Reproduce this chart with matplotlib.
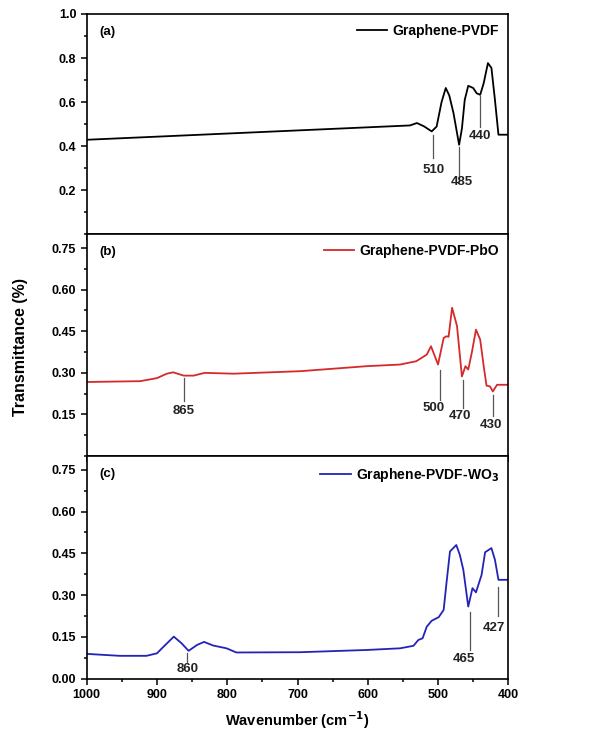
import matplotlib
matplotlib.use("Agg")
import matplotlib.pyplot as plt
from matplotlib.ticker import MultipleLocator

plt.rcParams['font.family'] = ['Liberation Sans', 'DejaVu Sans']
plt.rcParams['font.weight'] = 'bold'
plt.rcParams['mathtext.default'] = 'bf'

# spectra (wavenumber, transmittance)
wn_a = [1000, 540, 530, 520, 509, 502, 495, 489, 484, 478, 470, 466, 462, 457, 450, 445, 440, 435, 429, 424, 419, 414, 400]
tr_a = [0.429, 0.494, 0.505, 0.490, 0.467, 0.489, 0.600, 0.664, 0.630, 0.550, 0.406, 0.480, 0.610, 0.674, 0.664, 0.640, 0.633, 0.686, 0.777, 0.755, 0.610, 0.452, 0.452]

wn_b = [1000, 924, 900, 886, 877, 862, 848, 832, 791, 696, 602, 554, 531, 516, 510, 500, 492, 488, 485, 480, 473, 466, 461, 457, 452, 446, 440, 435, 431, 426, 422, 416, 400]
tr_b = [0.267, 0.270, 0.281, 0.297, 0.302, 0.290, 0.290, 0.300, 0.297, 0.306, 0.324, 0.330, 0.342, 0.366, 0.396, 0.330, 0.426, 0.432, 0.430, 0.535, 0.469, 0.287, 0.324, 0.312, 0.372, 0.456, 0.420, 0.324, 0.254, 0.251, 0.233, 0.257, 0.257]

wn_c = [1000, 953, 915, 900, 893, 876, 865, 855, 843, 833, 820, 801, 787, 696, 602, 554, 535, 528, 522, 516, 509, 499, 492, 488, 483, 474, 469, 464, 457, 451, 446, 438, 433, 424, 419, 414, 400]
tr_c = [0.089, 0.082, 0.082, 0.091, 0.109, 0.151, 0.127, 0.100, 0.121, 0.132, 0.119, 0.109, 0.094, 0.095, 0.103, 0.109, 0.118, 0.139, 0.145, 0.187, 0.208, 0.221, 0.247, 0.343, 0.457, 0.480, 0.445, 0.391, 0.259, 0.325, 0.310, 0.373, 0.454, 0.469, 0.427, 0.355, 0.355]

names = ['Graphene-PVDF', 'Graphene-PVDF-PbO', 'Graphene-PVDF-WO$_3$']
tags = ['(a)', '(b)', '(c)']
colors = ['black', '#d42a2a', '#2323b8']

# peak marks: label, wavenumber, line top, line bottom, text x, text y
peaks_a = [('510', 507.6, 0.452, 0.345, 507, 0.292),
           ('485', 470, 0.398, 0.247, 466, 0.239),
           ('440', 440, 0.626, 0.489, 440, 0.444)]
peaks_b = [('865', 862, 0.281, 0.197, 862, 0.161),
           ('500', 497, 0.312, 0.203, 507, 0.173),
           ('470', 465, 0.275, 0.173, 469, 0.143),
           ('430', 422, 0.221, 0.143, 424, 0.112)]
peaks_c = [('860', 857, 0.091, 0.061, 857, 0.034),
           ('465', 455, 0.241, 0.103, 463, 0.070),
           ('427', 415, 0.331, 0.226, 421, 0.181)]

fig = plt.figure(figsize=(6.15, 7.31), dpi=100)
left, width = 0.141, 0.6855
boxes = [(0.6795, 0.3014), (0.3762, 0.3033), (0.0716, 0.3047)]
axes = [fig.add_axes([left, b, width, h]) for b, h in boxes]

series = [(wn_a, tr_a, peaks_a), (wn_b, tr_b, peaks_b), (wn_c, tr_c, peaks_c)]
for i, ax in enumerate(axes):
    wn, tr, peaks = series[i]
    ax.plot(wn, tr, color=colors[i], lw=1.3, label=names[i])
    ax.set_xlim(1000, 400)
    ax.xaxis.set_major_locator(MultipleLocator(100))
    ax.xaxis.set_minor_locator(MultipleLocator(50))
    if i == 0:
        ax.set_ylim(0, 1.0)
        ax.set_yticks([0.2, 0.4, 0.6, 0.8, 1.0])
        ax.set_yticklabels(['0.2', '0.4', '0.6', '0.8', '1.0'])
        ax.yaxis.set_minor_locator(MultipleLocator(0.1))
    else:
        ax.set_ylim(0, 0.8)
        yt = [0.15, 0.30, 0.45, 0.60, 0.75] if i == 1 else [0.0, 0.15, 0.30, 0.45, 0.60, 0.75]
        ax.set_yticks(yt)
        ax.set_yticklabels(['%.2f' % v for v in yt])
        ax.yaxis.set_minor_locator(MultipleLocator(0.075))
    ax.tick_params(which='both', direction='out', top=False, right=False,
                   labelsize=9, width=1.1)
    ax.tick_params(which='major', length=4)
    ax.tick_params(which='minor', length=2.5)
    for lab in ax.get_yticklabels() + ax.get_xticklabels():
        lab.set_fontweight('bold')
    if i < 2:
        ax.tick_params(axis='x', labelbottom=False)
    for s in ax.spines.values():
        s.set_linewidth(1.2)
    for lab, x, y1, y2, tx, ty in peaks:
        ax.plot([x, x], [y1, y2], color='#555555', lw=0.9)
        ax.text(tx, ty, lab, ha='center', va='center', fontsize=9.5, fontweight='bold', color='#222222')
    ax.text(0.03, 0.905, tags[i], transform=ax.transAxes, fontsize=9.5, fontweight='bold')
    leg = ax.legend(loc='upper right', frameon=False, handlelength=2.2, handletextpad=0.35,
                    borderaxespad=0.3, prop={'size': 10, 'weight': 'bold'})

axes[2].set_xlabel('Wavenumber (cm$^{-1}$)', fontsize=10.5, fontweight='bold', labelpad=6)
fig.text(0.033, 0.525, 'Transmittance (%)', rotation=90, ha='center', va='center',
         fontsize=11.5, fontweight='bold')

fig.savefig('out.png', dpi=100)
